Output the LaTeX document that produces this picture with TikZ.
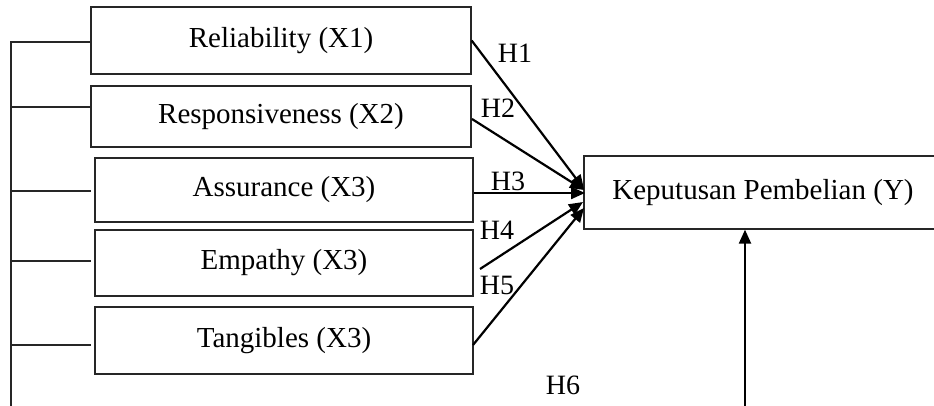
\documentclass[tikz,border=0pt]{standalone}
\usepackage{fontspec}
\setmainfont{Liberation Serif}
\usetikzlibrary{arrows.meta}
\begin{document}
\begin{tikzpicture}[x=1pt,y=-1pt,
  varbox/.style={draw=black!85,line width=1.3pt,inner sep=0pt,font=\fontsize{29}{34}\selectfont},
  hlabel/.style={font=\fontsize{28}{32}\selectfont,inner sep=0pt},
  link/.style={draw=black!85,line width=1.1pt},
  path/.style={draw=black,line width=2.2pt,-{Triangle[length=14pt,width=12pt]}}]
\useasboundingbox (0,0) rectangle (934,405);
\clip (0,0) rectangle (934,405);
% boxes
\node[varbox,minimum width=380pt,minimum height=67pt] (b1) at (281,40.5) {Reliability (X1)};
\node[varbox,minimum width=380pt,minimum height=61pt] (b2) at (281,116.5) {Responsiveness (X2)};
\node[varbox,minimum width=378pt,minimum height=64pt] (b3) at (284,190) {Assurance (X3)};
\node[varbox,minimum width=378pt,minimum height=66pt] (b4) at (284,263) {Empathy (X3)};
\node[varbox,minimum width=378pt,minimum height=67pt] (b5) at (284,340.5) {Tangibles (X3)};
\node[varbox,minimum width=352pt,minimum height=73pt] (y) at (760,192.5) {\hspace*{6pt}Keputusan Pembelian (Y)\hspace*{0pt}};
% left bracket
\coordinate (ltop) at (11,42);
\coordinate (lbot) at (11,406);
\coordinate (l2) at (11,107);
\coordinate (l3) at (11,191);
\coordinate (l4) at (11,261);
\coordinate (l5) at (11,345);
\draw[link] (lbot) -- (ltop) -- (b1.west |- ltop);
\draw[link] (l2) -- (b2.west |- l2);
\draw[link] (l3) -- ([xshift=-3pt]b3.west |- l3);
\draw[link] (l4) -- ([xshift=-3pt]b4.west |- l4);
\draw[link] (l5) -- ([xshift=-3pt]b5.west |- l5);
% arrow tips and free ends
\coordinate (t1) at (584,189);
\coordinate (t2) at (584,190);
\coordinate (t3) at (585,193);
\coordinate (t4) at (583,202);
\coordinate (t5) at (584,208);
\coordinate (s2) at (472,119);
\coordinate (s4) at (480,269);
\coordinate (s5) at (473,345);
\draw[path] (b1.east) -- (t1);
\draw[path] (s2) -- (t2);
\draw[path] (b3.east |- t3) -- (t3);
\draw[path] (s4) -- (t4);
\draw[path] (s5) -- (t5);
% H6 arrow
\coordinate (v) at (745,406);
\draw[path] (v) -- (v |- y.south);
% labels
\node[hlabel] (h1) at (515,53) {H1};
\node[hlabel] (h2) at (498,108) {H2};
\node[hlabel] (h3) at (508,181) {H3};
\node[hlabel] (h4) at (497,230) {H4};
\node[hlabel] (h5) at (497,285) {H5};
\node[hlabel] (h6) at (563,385) {H6};
\end{tikzpicture}
\end{document}
